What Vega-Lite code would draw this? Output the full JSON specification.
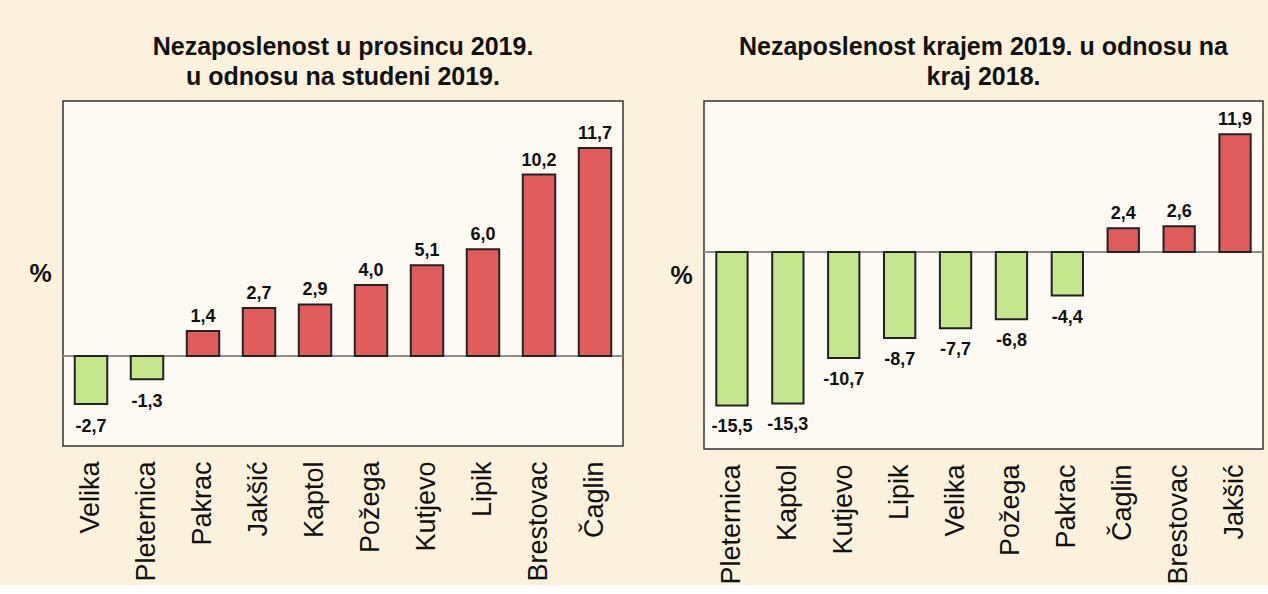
{
  "$schema": "https://vega.github.io/schema/vega-lite/v6.json",
  "background": "#FBF1DD",
  "padding": {"left": 28, "top": 34, "right": 6, "bottom": 0},
  "spacing": 44,
  "config": {
    "locale": {"number": {"decimal": ",", "thousands": ".", "grouping": [3], "currency": ["", ""], "minus": "-"}},
    "view": {"fill": "#FDFAF4", "stroke": "#333333", "strokeWidth": 1.5},
    "title": {"font": "Liberation Sans, Arial, sans-serif", "fontSize": 25, "fontWeight": "bold", "color": "#111111", "lineHeight": 30, "anchor": "middle"},
    "axisX": {"title": null, "labelAngle": -90, "labelFontSize": 27, "labelFont": "Liberation Sans, Arial, sans-serif", "labelColor": "#111111", "ticks": false, "domain": false, "grid": false, "labelPadding": 15, "labelLimit": 0},
    "axisY": {"labels": false, "ticks": false, "domain": false, "grid": false, "titleAngle": 0, "titleBaseline": "middle", "titleFontSize": 25, "titleFont": "Liberation Sans, Arial, sans-serif", "titleFontWeight": "bold", "titleColor": "#111111", "titlePadding": 23}
  },
  "datasets": {
    "a": [
      {"grad": "Velika", "v": -2.7},
      {"grad": "Pleternica", "v": -1.3},
      {"grad": "Pakrac", "v": 1.4},
      {"grad": "Jakšić", "v": 2.7},
      {"grad": "Kaptol", "v": 2.9},
      {"grad": "Požega", "v": 4.0},
      {"grad": "Kutjevo", "v": 5.1},
      {"grad": "Lipik", "v": 6.0},
      {"grad": "Brestovac", "v": 10.2},
      {"grad": "Čaglin", "v": 11.7}
    ],
    "b": [
      {"grad": "Pleternica", "v": -15.5},
      {"grad": "Kaptol", "v": -15.3},
      {"grad": "Kutjevo", "v": -10.7},
      {"grad": "Lipik", "v": -8.7},
      {"grad": "Velika", "v": -7.7},
      {"grad": "Požega", "v": -6.8},
      {"grad": "Pakrac", "v": -4.4},
      {"grad": "Čaglin", "v": 2.4},
      {"grad": "Brestovac", "v": 2.6},
      {"grad": "Jakšić", "v": 11.9}
    ]
  },
  "hconcat": [
    {
      "width": 560,
      "height": 345,
      "title": {"text": ["Nezaposlenost u prosincu 2019.", "u odnosu na studeni 2019."], "offset": 11},
      "data": {"name": "a"},
      "encoding": {
        "y": {"field": "v", "type": "quantitative", "title": "%", "scale": {"domain": [-5.06, 14.34], "nice": false, "zero": false}}
      },
      "layer": [
        {"mark": {"type": "rule", "color": "#8f8f8f", "strokeWidth": 2}, "encoding": {"y": {"datum": 0}}},
        {
          "mark": {"type": "bar", "stroke": "#222222", "strokeWidth": 2},
          "encoding": {
            "x": {"field": "grad", "type": "nominal", "sort": null, "scale": {"paddingInner": 0.42}},
            "fill": {"condition": {"test": "datum.v < 0", "value": "#C4E78D"}, "value": "#E05B5B"}
          }
        },
        {
          "transform": [{"filter": "datum.v >= 0"}],
          "mark": {"type": "text", "baseline": "alphabetic", "dy": -9, "fontSize": 18, "fontWeight": "bold", "font": "Liberation Sans, Arial, sans-serif", "color": "#111111"},
          "encoding": {
            "x": {"field": "grad", "type": "nominal", "sort": null},
            "text": {"field": "v", "type": "quantitative", "format": ".1f"}
          }
        },
        {
          "transform": [{"filter": "datum.v < 0"}],
          "mark": {"type": "text", "baseline": "top", "dy": 14, "fontSize": 18, "fontWeight": "bold", "font": "Liberation Sans, Arial, sans-serif", "color": "#111111"},
          "encoding": {
            "x": {"field": "grad", "type": "nominal", "sort": null},
            "text": {"field": "v", "type": "quantitative", "format": ".1f"}
          }
        }
      ]
    },
    {
      "width": 559,
      "height": 348,
      "title": {"text": ["Nezaposlenost krajem 2019. u odnosu na", "kraj 2018."], "offset": 11},
      "data": {"name": "b"},
      "encoding": {
        "y": {"field": "v", "type": "quantitative", "title": "%", "scale": {"domain": [-19.9, 15.25], "nice": false, "zero": false}}
      },
      "layer": [
        {"mark": {"type": "rule", "color": "#8f8f8f", "strokeWidth": 2}, "encoding": {"y": {"datum": 0}}},
        {
          "mark": {"type": "bar", "stroke": "#222222", "strokeWidth": 2},
          "encoding": {
            "x": {"field": "grad", "type": "nominal", "sort": null, "scale": {"paddingInner": 0.44}},
            "fill": {"condition": {"test": "datum.v < 0", "value": "#C4E78D"}, "value": "#E05B5B"}
          }
        },
        {
          "transform": [{"filter": "datum.v >= 0"}],
          "mark": {"type": "text", "baseline": "alphabetic", "dy": -9, "fontSize": 18, "fontWeight": "bold", "font": "Liberation Sans, Arial, sans-serif", "color": "#111111"},
          "encoding": {
            "x": {"field": "grad", "type": "nominal", "sort": null},
            "text": {"field": "v", "type": "quantitative", "format": ".1f"}
          }
        },
        {
          "transform": [{"filter": "datum.v < 0"}],
          "mark": {"type": "text", "baseline": "top", "dy": 13, "fontSize": 18, "fontWeight": "bold", "font": "Liberation Sans, Arial, sans-serif", "color": "#111111"},
          "encoding": {
            "x": {"field": "grad", "type": "nominal", "sort": null},
            "text": {"field": "v", "type": "quantitative", "format": ".1f"}
          }
        }
      ]
    }
  ]
}
